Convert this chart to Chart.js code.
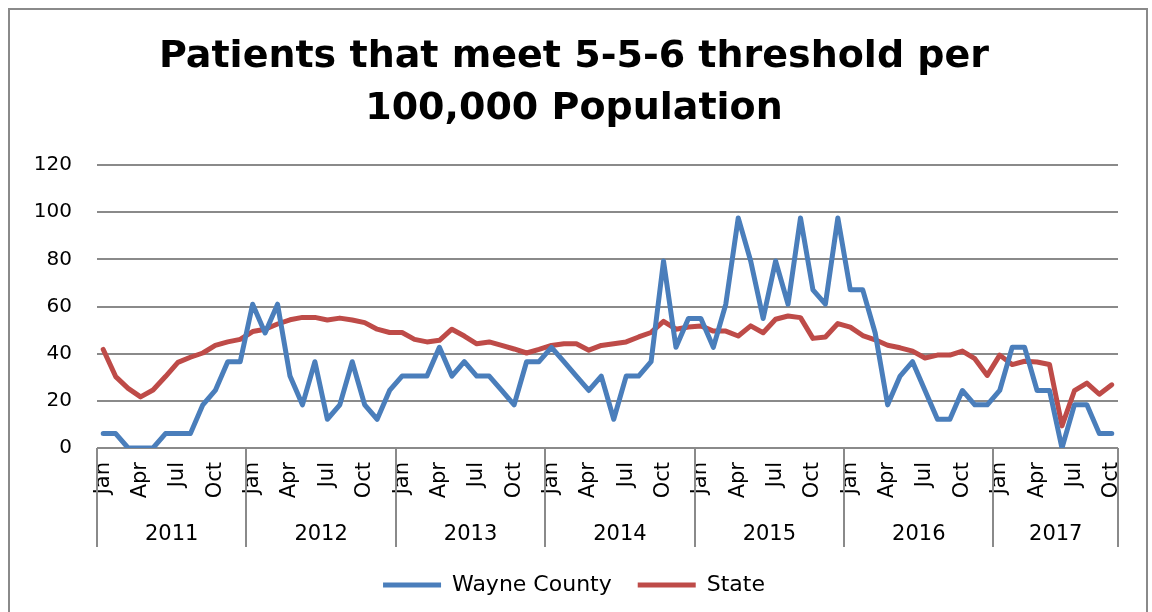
<!doctype html>
<html>

<head>
    <title>Patients that meet 5-5-6 threshold</title>
    <script src="https://cdn.jsdelivr.net/npm/chart.js"></script>
    <style>
        body { margin: 0; background: #fff; }
        #box { position: relative; width: 1152px; height: 612px; overflow: hidden; }
        #frame { position: absolute; left: 8px; top: 8px; width: 1136px; height: 620px; border: 2px solid #8a8a8a; pointer-events: none; }
    </style>
</head>

<body>
    <div id="box">
        <canvas id="grafico" width="1152" height="612"></canvas>
        <div id="frame"></div>
    </div>

    <script>
        // meses de jan/2011 a out/2017
        var anos = ['2011', '2012', '2013', '2014', '2015', '2016', '2017'];
        var mesesPorAno = [12, 12, 12, 12, 12, 12, 10];
        var nomesMeses = ['Jan', 'Feb', 'Mar', 'Apr', 'May', 'Jun', 'Jul', 'Aug', 'Sep', 'Oct', 'Nov', 'Dec'];
        var mesesVisiveis = ['Jan', 'Apr', 'Jul', 'Oct'];

        var wayne = [
            6.1, 6.1, 0, 0, 0, 6.1, 6.1, 6.1, 18.3, 24.4, 36.6, 36.6,
            61, 48.8, 61, 30.5, 18.3, 36.6, 12.2, 18.3, 36.6, 18.3, 12.2, 24.4,
            30.5, 30.5, 30.5, 42.7, 30.5, 36.6, 30.5, 30.5, 24.4, 18.3, 36.6, 36.6,
            42.7, 36.6, 30.5, 24.4, 30.5, 12.2, 30.5, 30.5, 36.6, 79.3, 42.7, 54.9,
            54.9, 42.7, 61, 97.6, 79.3, 54.9, 79.3, 61, 97.6, 67.1, 61, 97.6,
            67.1, 67.1, 48.8, 18.3, 30.5, 36.6, 24.4, 12.2, 12.2, 24.4, 18.3, 18.3,
            24.4, 42.7, 42.7, 24.4, 24.4, 0, 18.3, 18.3, 6.1, 6.1
        ];
        var estado = [
            41.8, 30.3, 25.3, 21.7, 24.6, 30.3, 36.3, 38.5, 40.3, 43.5, 45, 46.1,
            49.4, 50.4, 52.6, 54.4, 55.4, 55.4, 54.3, 55.1, 54.3, 53.2, 50.4, 49,
            49, 46.1, 45, 45.7, 50.4, 47.5, 44.2, 45, 43.5, 42, 40.3, 41.8,
            43.5, 44.2, 44.2, 41.5, 43.5, 44.2, 45, 47.1, 49, 53.7, 50.4, 51.3,
            51.8, 49.6, 49.6, 47.5, 51.8, 48.9, 54.6, 56, 55.3, 46.5, 47.1, 52.8,
            51.3, 47.7, 45.9, 43.6, 42.5, 41.1, 38.2, 39.4, 39.4, 41.1, 37.9, 30.8,
            39.4, 35.4, 36.8, 36.5, 35.4, 9.4, 24.3, 27.5, 22.8, 26.8
        ];

        var rotulos = [];
        anos.forEach(function (ano, k) {
            for (var m = 0; m < mesesPorAno[k]; m++) {
                rotulos.push(nomesMeses[m]);
            }
        });

        var fonte = "'DejaVu Sans'";

        // linha dos anos com os separadores embaixo do eixo x
        var linhaAnos = {
            id: 'linhaAnos',
            afterDraw: function (chart) {
                var eixo = chart.scales.x;
                var ctx = chart.ctx;
                var topo = chart.chartArea.bottom;
                var base = topo + 99;
                var inicio = 0;
                ctx.save();
                ctx.strokeStyle = '#8a8a8a';
                ctx.lineWidth = 2;
                ctx.fillStyle = '#000';
                ctx.font = '21px ' + fonte;
                ctx.textAlign = 'center';
                ctx.textBaseline = 'middle';
                anos.forEach(function (ano, k) {
                    var x0 = eixo.getPixelForValue(inicio - 0.5);
                    var x1 = eixo.getPixelForValue(inicio + mesesPorAno[k] - 0.5);
                    ctx.beginPath();
                    ctx.moveTo(Math.round(x0), topo);
                    ctx.lineTo(Math.round(x0), base);
                    ctx.stroke();
                    ctx.fillText(ano, (x0 + x1) / 2, topo + 87);
                    inicio += mesesPorAno[k];
                    if (k == anos.length - 1) {
                        ctx.beginPath();
                        ctx.moveTo(Math.round(x1), topo);
                        ctx.lineTo(Math.round(x1), base);
                        ctx.stroke();
                    }
                });
                ctx.restore();
            }
        };

        var grafico = new Chart(document.getElementById('grafico'), {
            type: 'line',
            data: {
                labels: rotulos,
                datasets: [{
                    label: 'Wayne County',
                    data: wayne,
                    borderColor: '#4a7ebb',
                    backgroundColor: '#4a7ebb',
                    borderWidth: 5,
                    pointRadius: 0,
                    borderJoinStyle: 'round',
                    borderCapStyle: 'round'
                }, {
                    label: 'State',
                    data: estado,
                    borderColor: '#be4b48',
                    backgroundColor: '#be4b48',
                    borderWidth: 5,
                    pointRadius: 0,
                    borderJoinStyle: 'round',
                    borderCapStyle: 'round'
                }]
            },
            options: {
                responsive: false,
                animation: false,
                // padding esquerda maior para centralizar titulo e legenda como no original
                layout: { padding: { left: 30, right: 34, top: 0, bottom: 6 } },
                plugins: {
                    title: {
                        display: true,
                        text: ['Patients that meet 5-5-6 threshold per', '100,000 Population'],
                        color: '#000',
                        font: { family: fonte, size: 38, weight: 'bold', lineHeight: 1.37 },
                        padding: { top: 31, bottom: 30 }
                    },
                    legend: {
                        position: 'bottom',
                        labels: {
                            color: '#000',
                            font: { family: fonte, size: 22 },
                            usePointStyle: true,
                            pointStyle: 'line',
                            pointStyleWidth: 58,
                            padding: 26
                        }
                    },
                    tooltip: { enabled: false }
                },
                scales: {
                    x: {
                        offset: true,
                        grid: { display: false },
                        border: { display: false },
                        afterFit: function (eixo) { eixo.height = 100; },
                        ticks: {
                            autoSkip: false,
                            maxRotation: 90,
                            minRotation: 90,
                            padding: 6,
                            color: '#000',
                            font: { family: fonte, size: 21 },
                            callback: function (v, i) {
                                var r = rotulos[i];
                                return mesesVisiveis.indexOf(r) >= 0 ? r : '';
                            }
                        }
                    },
                    y: {
                        min: 0,
                        max: 120,
                        afterFit: function (eixo) { eixo.width = 67; },
                        border: { display: false },
                        grid: { color: '#8a8a8a', lineWidth: 2, drawTicks: false },
                        ticks: {
                            stepSize: 20,
                            padding: 25,
                            color: '#000',
                            font: { family: fonte, size: 20 }
                        }
                    }
                }
            },
            plugins: [linhaAnos]
        });
    </script>
</body>

</html>
